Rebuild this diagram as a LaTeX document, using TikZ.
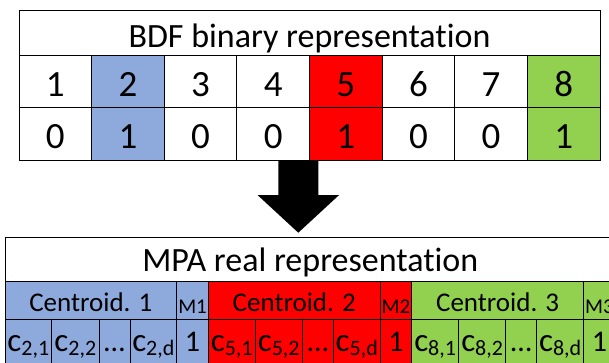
\documentclass[tikz,border=0pt]{standalone}
\usepackage{fontspec}
\setmainfont{Carlito}[Ligatures=NoCommon]
\definecolor{bdfBlue}{RGB}{142,169,219}
\definecolor{bdfRed}{RGB}{255,0,0}
\definecolor{bdfGreen}{RGB}{146,208,80}
\newcommand{\fsize}[1]{\fontsize{#1}{#1}\selectfont}
\newcommand{\csub}[1]{{\fsize{33}c}\raisebox{-4pt}{\fsize{22}#1}}

\begin{document}
\begin{tikzpicture}[x=1pt,y=-1pt,
  cell/.style={draw=black, line width=1pt, inner sep=0pt, outer sep=0pt, anchor=north west, text depth=0pt},
  bitcell/.style={cell, minimum width=72.625pt, font=\fsize{37}},
  valcell/.style={cell, minimum height=45pt, text height=18.4pt, font=\fsize{30}}]
  \useasboundingbox (0,0) rectangle (609,363);
  \clip (0,0) rectangle (609,363);

  % BDF binary representation
  \node[cell, minimum width=581pt, minimum height=44.7pt, text height=27.5pt, font=\fsize{34}] (bdfTitle) at (19,11) {BDF binary representation};
  \foreach \i/\bit/\tint in {1/0/white, 2/1/bdfBlue, 3/0/white, 4/0/white, 5/1/bdfRed, 6/0/white, 7/0/white, 8/1/bdfGreen} {
    \node[bitcell, fill=\tint, minimum height=52pt, text height=30.6pt] (idx\i) at ({19+(\i-1)*72.625},55.7) {\i};
    \node[bitcell, fill=\tint, minimum height=53.3pt, text height=29.3pt] (bit\i) at (idx\i.south west) {\bit};
  }

  % Conversion arrow
  \coordinate (arrowTop) at (298.3,161);
  \fill[black] (arrowTop) ++(-20,0) -- ++(0,34) -- ++(-20.8,0) -- ++(40.8,37.7) -- ++(40.8,-37.7) -- ++(-20.8,0) -- ++(0,-34) -- cycle;

  % MPA real representation
  \node[cell, minimum width=610.6pt, minimum height=44.4pt, text height=24pt, font=\fsize{34}] (mpaTitle) at (5,237.3) {MPA real representation};
  \foreach \g/\k/\tint in {1/2/bdfBlue, 2/5/bdfRed, 3/8/bdfGreen} {
    \pgfmathsetmacro{\gx}{5+(\g-1)*203.4}
    \node[cell, fill=\tint, minimum width=171.7pt, minimum height=37.6pt, text height=21pt, font=\fsize{27}] (cent\g) at (\gx,281.7) {Centroid. \g};
    \node[cell, fill=\tint, minimum width=31.7pt, minimum height=37.6pt, text height=25pt, font=\fsize{21}] (mark\g) at (cent\g.north east) {M\g};
    \node[valcell, fill=\tint, minimum width=46.7pt] (val\g-1) at (cent\g.south west) {\csub{\k,1}};
    \node[valcell, fill=\tint, minimum width=47.3pt] (val\g-2) at (val\g-1.north east) {\csub{\k,2}};
    \node[valcell, fill=\tint, minimum width=31pt] (dots\g) at (val\g-2.north east) {…};
    \node[valcell, fill=\tint, minimum width=46.7pt] (val\g-d) at (dots\g.north east) {\csub{\k,d}};
    \node[valcell, fill=\tint, minimum width=31.7pt] (flag\g) at (val\g-d.north east) {1};
  }
\end{tikzpicture}
\end{document}
